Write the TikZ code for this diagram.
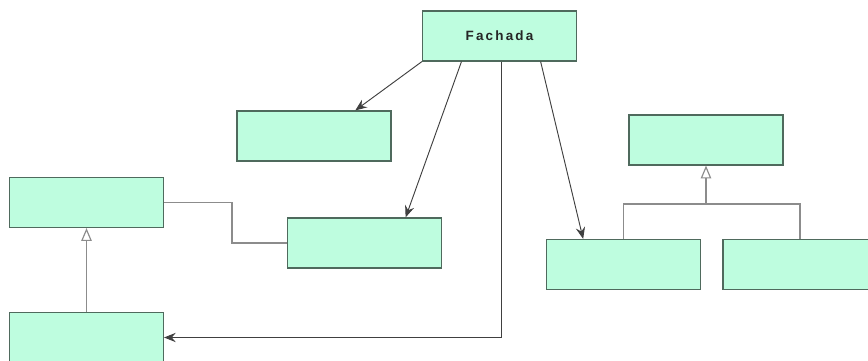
\documentclass[tikz,border=0pt]{standalone}
\usepackage{fontspec}
\newfontfamily\boxfont[LetterSpace=16]{Liberation Sans}
\usetikzlibrary{arrows.meta, calc}
\definecolor{mint}{HTML}{BEFDDF}
\definecolor{edge}{HTML}{4F6A5D}

\begin{document}
\begin{tikzpicture}[
        x=0.03cm, y=-0.03cm,
        classbox/.style={draw=edge, line width=1pt, fill=mint, rectangle, minimum width=4.62cm, minimum height=1.5cm, align=center, font=\boxfont\bfseries\fontsize{11.5}{13}\selectfont, text=black!85},
        arrow/.style={-{Stealth[length=10pt, width=8pt, inset=3.5pt]}, line width=0.8pt, draw=black!75},
        assoc/.style={line width=1.6pt, draw=black!45},
        inherit/.style={assoc, -{Triangle[open, length=11pt, width=9pt, line width=1pt, fill=white]}}
    ]
    \useasboundingbox (0,0) rectangle (868,360);

    \node[classbox] (Fachada) at (499.5,36) {Fachada};
    \node[classbox] (BoxA) at (314,136) {};
    \node[classbox] (BoxB) at (86.5,202.5) {};
    \node[classbox] (BoxC) at (364.5,243) {};
    \node[classbox] (BoxD) at (706,140) {};
    \node[classbox] (BoxE) at (623.5,264.5) {};
    \node[classbox] (BoxF) at (800,264.5) {};
    \node[classbox] (BoxG) at (86.5,337.5) {};
    \coordinate (Join) at ($(BoxD.south)+(0,38)$);

    \draw[arrow] (Fachada.south west) -- ($(BoxA.north west)!0.766!(BoxA.north east)$);
    \draw[arrow] ($(Fachada.south west)!0.255!(Fachada.south east)$) -- ($(BoxC.north west)!0.765!(BoxC.north east)$);
    \draw[arrow] ($(Fachada.south west)!0.765!(Fachada.south east)$) -- ($(BoxE.north west)!0.24!(BoxE.north east)$);
    \draw[arrow] ($(Fachada.south)+(1.5,0)$) |- (BoxG.east);

    \draw[assoc] (BoxB.east) -- +(68,0) |- (BoxC.west);
    \draw[inherit] (BoxG.north) -- (BoxB.south);
    \draw[assoc] (BoxE.north) |- (Join) -| (BoxF.north);
    \draw[inherit] (Join) -- (BoxD.south);

\end{tikzpicture}
\end{document}
